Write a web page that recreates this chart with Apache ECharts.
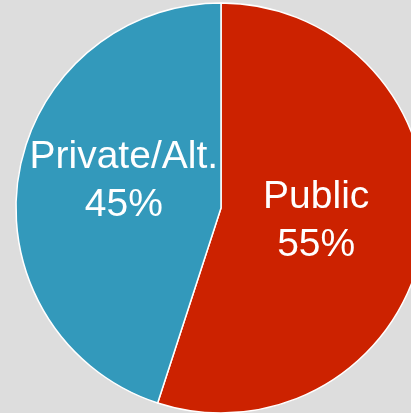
<!DOCTYPE html>
<html>
<head>
<meta charset="utf-8">
<style>
  html, body { margin: 0; padding: 0; background: #dddddd; }
  #chart { width: 411px; height: 413px; }
</style>
<script src="https://cdn.jsdelivr.net/npm/echarts@6/dist/echarts.min.js"></script>
</head>
<body>
<div id="chart"></div>
<script>
const categories = ['Public', 'Private/Alt.'];
const values = [55, 45];
const colors = ['#cc2200', '#3399bb'];

const chart = echarts.init(document.getElementById('chart'));
chart.setOption({
  backgroundColor: '#dddddd',
  animation: false,
  series: [{
    type: 'pie',
    center: [221, 208],
    radius: 205,
    startAngle: 90,
    clockwise: true,
    silent: true,
    itemStyle: { borderColor: '#ffffff', borderWidth: 1.5 },
    label: {
      show: true,
      position: 'inside',
      formatter: '{b}\n{d}%',
      color: '#ffffff',
      fontFamily: 'Liberation Sans, Arial, sans-serif',
      fontSize: 39,
      lineHeight: 48,
      align: 'center'
    },
    labelLayout: function (p) {
      return p.dataIndex === 0 ? { dx: -9, dy: -3 } : { dx: 7, dy: -10 };
    },
    labelLine: { show: false },
    data: categories.map((c, i) => ({ name: c, value: values[i], itemStyle: { color: colors[i] } }))
  }]
});
</script>
</body>
</html>
